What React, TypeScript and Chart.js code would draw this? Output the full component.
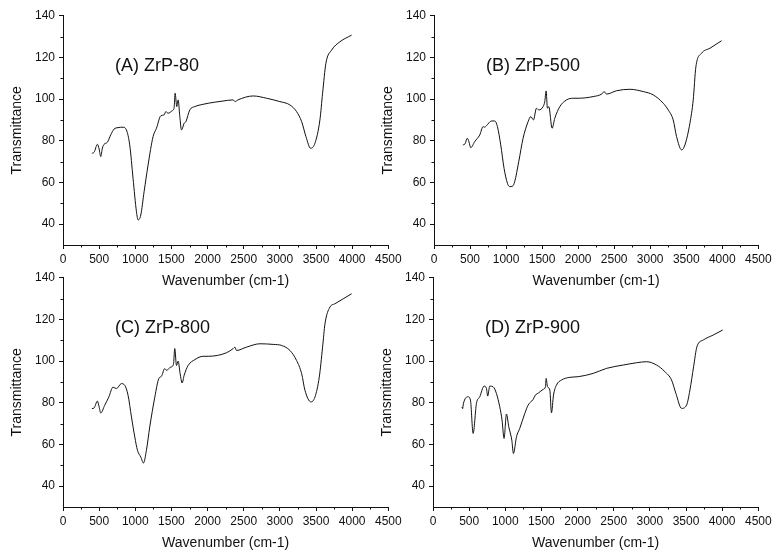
import React, { useEffect, useRef } from 'react';
import { Chart, registerables } from 'chart.js';

Chart.register(...registerables);

// ---------- data ----------
const aWave = [400, 430, 476, 500, 522, 545, 568, 614, 660, 706, 761, 831, 877, 923, 969, 1016, 1039, 1076, 1122, 1177, 1246, 1293, 1353, 1399, 1422, 1454, 1510, 1537, 1551, 1574, 1593, 1616, 1639, 1676, 1700, 1754, 1824, 1939, 2008, 2200, 2354, 2380, 2420, 2631, 2816, 3000, 3139, 3231, 3301, 3361, 3425, 3485, 3554, 3591, 3637, 3716, 3831, 3993];
const aTrans = [74, 74.5, 78.3, 76, 72.4, 76.5, 78.3, 79.3, 82.8, 85.6, 86.3, 86.5, 85.2, 78, 62, 46, 42, 44.4, 55.6, 68.4, 82, 86, 92, 92.4, 94, 93.2, 94.4, 95.9, 102.8, 96.4, 99.6, 91.6, 85.2, 88.4, 89.2, 94.8, 96.4, 97.5, 98, 99, 99.6, 98.8, 99.6, 101.5, 100.4, 98.8, 97.2, 94, 89.2, 82, 76.4, 78.8, 90, 102.8, 117.2, 123.5, 127.5, 130.7];

const bWave = [400, 430, 463, 485, 510, 565, 635, 681, 700, 727, 797, 843, 880, 926, 972, 1019, 1050, 1090, 1120, 1176, 1236, 1306, 1343, 1380, 1422, 1454, 1514, 1537, 1556, 1574, 1593, 1639, 1676, 1746, 1839, 1931, 2000, 2208, 2330, 2360, 2394, 2533, 2718, 2903, 3042, 3181, 3250, 3319, 3366, 3436, 3482, 3551, 3597, 3634, 3713, 3829, 3991];
const bTrans = [78, 78.5, 81.2, 79.5, 76.7, 79.6, 82.8, 86.8, 86.5, 87.2, 89.5, 89.5, 86.8, 78, 66.8, 59.6, 58, 58.2, 60.4, 70, 81.2, 89.2, 91.6, 90, 95.6, 94.8, 96.4, 98.8, 103.9, 95.6, 96.4, 86, 90.8, 96.4, 99.6, 100.4, 100.4, 101.2, 102.5, 103.6, 102.4, 104, 104.7, 103.6, 102, 98, 94.8, 90, 82, 75.6, 78, 88.4, 99.6, 115.5, 122, 124.4, 128];

const cWave = [400, 430, 476, 500, 522, 577, 633, 692, 739, 808, 854, 900, 947, 993, 1030, 1076, 1113, 1154, 1200, 1270, 1325, 1362, 1408, 1431, 1491, 1528, 1546, 1570, 1593, 1620, 1648, 1676, 1731, 1824, 1939, 2008, 2262, 2354, 2377, 2400, 2539, 2724, 2908, 3024, 3139, 3231, 3301, 3347, 3430, 3485, 3545, 3591, 3624, 3693, 3762, 3877, 3993];
const cTrans = [77.2, 77.5, 80.8, 78, 75.1, 78.8, 82.7, 87.5, 86.8, 89.2, 88.4, 83.6, 73.2, 63.6, 57.2, 54, 51.1, 57.2, 68.4, 82.7, 91.6, 92.7, 96.4, 95.6, 97.1, 98.4, 106, 97.9, 100, 94, 89.5, 93.2, 97.9, 100.7, 102.3, 102.3, 104, 106, 106.7, 105.1, 106.7, 108.3, 108, 107.5, 105.1, 100.3, 94, 86, 80.4, 82.7, 92.3, 106.7, 117.9, 125.9, 127.5, 129.9, 132.3];

const dWave = [400, 410, 420, 485, 518, 555, 601, 647, 707, 739, 757, 785, 831, 877, 923, 955, 983, 1016, 1048, 1090, 1113, 1155, 1200, 1270, 1316, 1385, 1417, 1463, 1523, 1556, 1565, 1584, 1616, 1639, 1667, 1708, 1777, 1893, 2008, 2216, 2400, 2631, 2816, 2955, 3093, 3208, 3300, 3360, 3439, 3508, 3554, 3605, 3651, 3738, 3877, 4008];
const dTrans = [78, 77.2, 79.5, 82.9, 81.3, 65.3, 79.7, 82.9, 88, 86.9, 83.2, 88, 87.7, 84.5, 78.1, 71.7, 62.9, 74.6, 68.5, 62.1, 55.7, 63.7, 67.7, 74.9, 78.9, 81.6, 83.7, 84.8, 86.4, 87.7, 91.7, 87.7, 86.1, 75.2, 83.7, 88.5, 90.9, 92.2, 92.5, 94.1, 96.5, 98.1, 99.2, 99.7, 98.1, 94.9, 90.9, 84.5, 77.3, 78.9, 86.1, 97.3, 106.9, 110.1, 112.5, 114.9];

const panelLabels = ['(A) ZrP-80', '(B) ZrP-500', '(C) ZrP-800', '(D) ZrP-900'];
const xTicks = [0, 500, 1000, 1500, 2000, 2500, 3000, 3500, 4000, 4500];
const xMinorTicks = [250, 750, 1250, 1750, 2250, 2750, 3250, 3750, 4250];
const yTicks = [40, 60, 80, 100, 120, 140];
const yMinorTicks = [50, 70, 90, 110, 130];
const xTitle = 'Wavenumber (cm-1)';
const yTitle = 'Transmittance';
const labelPos = [720, 116];

// ---------- style ----------
const FONT = 'Arial, "Liberation Sans", sans-serif';
const INK = '#111111';
const CANVAS_W = 410;
const CANVAS_H = 290;

const panels = [
  { wave: aWave, trans: aTrans, label: panelLabels[0], left: 0, top: 0, padRight: 21.7 },
  { wave: bWave, trans: bTrans, label: panelLabels[1], left: 371, top: 0, padRight: 22.7 },
  { wave: cWave, trans: cTrans, label: panelLabels[2], left: 0, top: 262, padRight: 21.7 },
  { wave: dWave, trans: dTrans, label: panelLabels[3], left: 370, top: 262, padRight: 21.7 },
];

const extrasPlugin = {
  id: 'extras',
  afterDraw(chart: any) {
    const { ctx, chartArea } = chart;
    const xs = chart.scales.x;
    const ys = chart.scales.y;
    ctx.save();
    ctx.strokeStyle = INK;
    ctx.lineWidth = 1;
    ctx.beginPath();
    for (const v of xMinorTicks) {
      const px = Math.round(xs.getPixelForValue(v)) + 0.5;
      ctx.moveTo(px, chartArea.bottom);
      ctx.lineTo(px, chartArea.bottom + 2.5);
    }
    for (const v of yMinorTicks) {
      const py = Math.round(ys.getPixelForValue(v)) + 0.5;
      ctx.moveTo(chartArea.left, py);
      ctx.lineTo(chartArea.left - 2.5, py);
    }
    ctx.stroke();
    const label = chart.options.plugins.extras.label;
    ctx.fillStyle = INK;
    ctx.font = `18px ${FONT}`;
    ctx.textAlign = 'left';
    ctx.textBaseline = 'middle';
    ctx.fillText(label, xs.getPixelForValue(labelPos[0]), ys.getPixelForValue(labelPos[1]));
    ctx.restore();
  },
};

function Panel(props: { wave: number[]; trans: number[]; label: string; left: number; top: number; padRight: number }) {
  const ref = useRef<HTMLCanvasElement | null>(null);
  useEffect(() => {
    if (!ref.current) return;
    const points = props.wave.map((w, i) => ({ x: w, y: props.trans[i] }));
    const chart = new Chart(ref.current, {
      type: 'line',
      data: {
        datasets: [
          {
            data: points,
            borderColor: INK,
            borderWidth: 1,
            pointRadius: 0,
            cubicInterpolationMode: 'monotone',
            fill: false,
          },
        ],
      },
      plugins: [extrasPlugin],
      options: {
        animation: false,
        responsive: false,
        events: [],
        layout: { padding: { left: 0, top: 15.7, right: props.padRight, bottom: 0 } },
        plugins: {
          legend: { display: false },
          tooltip: { enabled: false },
          extras: { label: props.label },
        } as any,
        scales: {
          x: {
            type: 'linear',
            min: 0,
            max: 4500,
            afterBuildTicks: (s: any) => {
              s.ticks = xTicks.map((v) => ({ value: v }));
            },
            afterFit: (s: any) => {
              s.height = 45;
            },
            grid: { drawOnChartArea: false, drawTicks: true, tickLength: 4, color: INK, lineWidth: 1 },
            border: { display: true, color: INK, width: 1 },
            ticks: {
              color: INK,
              font: { family: FONT, size: 12 },
              padding: 3,
              maxRotation: 0,
              autoSkip: false,
              callback: (v: any) => String(v),
            },
            title: { display: true, text: xTitle, color: INK, font: { family: FONT, size: 14 }, padding: { top: 0, bottom: 0.6 } },
          },
          y: {
            type: 'linear',
            min: 30,
            max: 140,
            afterBuildTicks: (s: any) => {
              s.ticks = yTicks.map((v) => ({ value: v }));
            },
            afterFit: (s: any) => {
              s.width = 63;
            },
            grid: { drawOnChartArea: false, drawTicks: true, tickLength: 4, color: INK, lineWidth: 1 },
            border: { display: true, color: INK, width: 1 },
            ticks: {
              color: INK,
              font: { family: FONT, size: 12 },
              padding: 4,
              autoSkip: false,
              callback: (v: any) => String(v),
            },
            title: { display: true, text: yTitle, color: INK, font: { family: FONT, size: 14 }, padding: { top: 9, bottom: 0 } },
          },
        },
      } as any,
    });
    return () => chart.destroy();
  }, [props.wave, props.trans, props.label, props.padRight]);

  return (
    <canvas
      ref={ref}
      width={CANVAS_W}
      height={CANVAS_H}
      style={{ position: 'absolute', left: props.left, top: props.top, width: CANVAS_W, height: CANVAS_H }}
    />
  );
}

export default function App() {
  return (
    <div style={{ position: 'absolute', left: 0, top: 0, width: 782, height: 560, background: '#ffffff', overflow: 'hidden' }}>
      {panels.map((p, i) => (
        <Panel key={i} {...p} />
      ))}
    </div>
  );
}
